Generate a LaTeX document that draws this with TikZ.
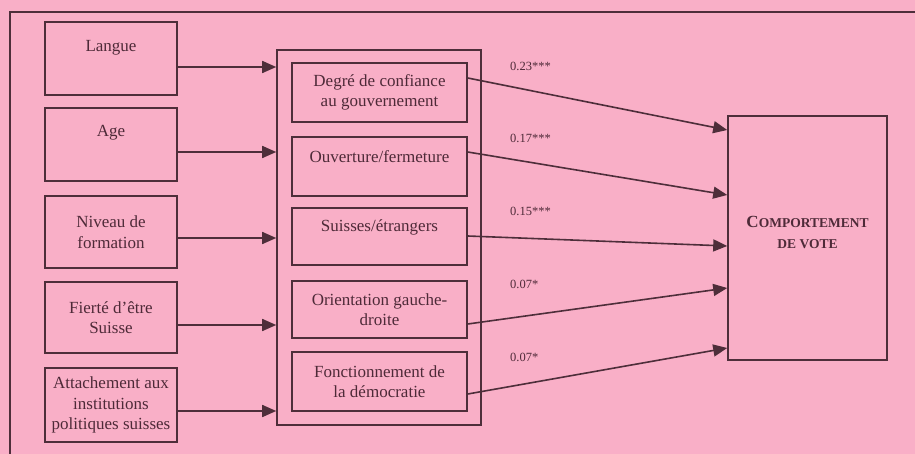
\documentclass[tikz,border=0pt]{standalone}
\usepackage{fontspec}
\setmainfont{Liberation Serif}
\usetikzlibrary{arrows.meta}
\definecolor{bgpink}{RGB}{249,175,199}
\definecolor{ink}{RGB}{78,46,58}
\definecolor{txt}{RGB}{78,42,56}
\tikzset{
  box/.style={draw=ink, line width=1.6pt, inner sep=0pt, align=center, text=txt,
     font=\fontsize{17}{20.5}\selectfont},
  lbl/.style={inner sep=0pt, text=txt, font=\fontsize{17}{20.5}\selectfont, align=center},
  coef/.style={inner sep=0pt, text=txt, font=\fontsize{12.5}{14}\selectfont},
  arr/.style={draw=ink, line width=1.6pt, -{Triangle[length=14pt,width=12pt]}},
}
\begin{document}
\begin{tikzpicture}[x=1pt,y=-1pt]
\useasboundingbox (0,0) rectangle (915,454);
\fill[bgpink] (0,0) rectangle (915,454);
% outer frame (partly visible)
\draw[ink, line width=1.4pt] (10,454) -- (10,12) -- (915,12);
% left boxes
\node[box, minimum width=132pt, minimum height=73pt] (langue) at (111,58.5) {};
\node[lbl] (langueT) at (111,48) {Langue};
\node[box, minimum width=132pt, minimum height=73pt] (age) at (111,144.5) {};
\node[lbl] (ageT) at (111,133) {Age};
\node[box, minimum width=132pt, minimum height=72pt] (niveau) at (111,232) {Niveau de\\formation};
\node[box, minimum width=132pt, minimum height=71pt] (fierte) at (111,317.5) {Fierté d'être\\Suisse};
\node[box, minimum width=132pt, minimum height=74pt] (attach) at (111,405) {Attachement aux\\institutions\\politiques suisses};
% mediator group
\node[draw=ink, line width=1.6pt, minimum width=204pt, minimum height=375pt, inner sep=0pt] (med) at (379,237.5) {};
\node[box, minimum width=175pt, minimum height=59pt] (degre) at (379.5,92.5) {Degré de confiance\\au gouvernement};
\node[box, minimum width=175pt, minimum height=59pt] (ouvert) at (379.5,166.5) {};
\node[lbl] (ouvertT) at (379.5,157) {Ouverture/fermeture};
\node[box, minimum width=175pt, minimum height=57pt] (suisses) at (379.5,236.5) {};
\node[lbl] (suissesT) at (379.5,227) {Suisses/étrangers};
\node[box, minimum width=175pt, minimum height=57pt] (orient) at (379.5,309.5) {Orientation gauche-\\droite};
\node[box, minimum width=175pt, minimum height=59pt] (fonct) at (379.5,381.5) {Fonctionnement de\\la démocratie};
% outcome
\node[box, minimum width=159pt, minimum height=244pt] (vote) at (807.5,238) {};
\node[lbl, font=\bfseries\fontsize{17}{21}\selectfont] (voteT) at (807.5,232.5)
  {C{\fontsize{13.5}{21}\selectfont OMPORTEMENT}\\{\fontsize{13.5}{21}\selectfont DE VOTE}};
% arrows left -> mediator group
\foreach \n/\s in {langue/-8.5, age/-7.5, niveau/-6, fierte/-7.5, attach/-6}{
  \draw[arr] ([yshift=\s pt]\n.east) -- ([yshift=\s pt]\n.east -| med.west);
}
% arrows mediators -> vote
\draw[arr] ([yshift=14.5pt]degre.east) -- ([yshift=108pt]vote.west);
\draw[arr] ([yshift=14.5pt]ouvert.east) -- ([yshift=43pt]vote.west);
\draw[arr] ([yshift=0.5pt]suisses.east) -- ([yshift=-8pt]vote.west);
\draw[arr] ([yshift=-14.5pt]orient.east) -- ([yshift=-50pt]vote.west);
\draw[arr] ([yshift=-12.5pt]fonct.east) -- ([yshift=-110pt]vote.west);
% coefficients
\node[coef, anchor=west] (c1) at (510,66) {0.23***};
\node[coef, anchor=west] (c2) at (510,138) {0.17***};
\node[coef, anchor=west] (c3) at (510,211) {0.15***};
\node[coef, anchor=west] (c4) at (510,284) {0.07*};
\node[coef, anchor=west] (c5) at (510,357) {0.07*};
\end{tikzpicture}
\end{document}
